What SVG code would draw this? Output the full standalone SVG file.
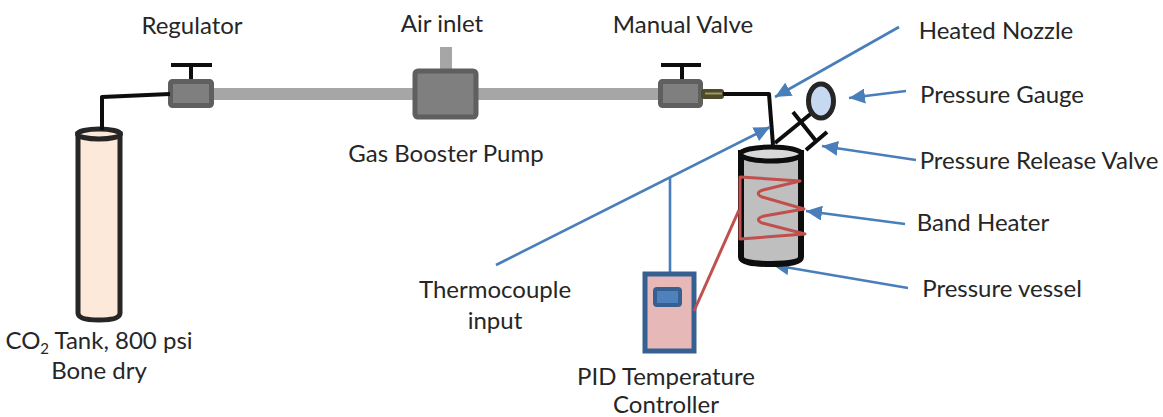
<svg xmlns="http://www.w3.org/2000/svg" width="1163" height="417" viewBox="0 0 1163 417">
<defs>
<marker id="ah" markerUnits="userSpaceOnUse" markerWidth="17" markerHeight="15" refX="16" refY="7.500" orient="auto"><path d="M0 0L16 7.500L0 15Z" fill="#4a7ebb"/></marker>
</defs>
<style>
text{font-family:Lato,"Noto Sans",sans-serif;font-size:24px;fill:#262626;text-anchor:middle}
.b{fill:none;stroke:#0d0d0d;stroke-width:4;stroke-linejoin:round}
.bl{fill:none;stroke:#4a7ebb;stroke-width:2.600}
.ar{fill:none;stroke:#4a7ebb;stroke-width:2.600;marker-end:url(#ah)}
.pipe{fill:#a6a6a6}
.box{fill:#7f7f7f;stroke:#5f5f5f;stroke-width:5;stroke-linejoin:round}
.red{fill:none;stroke:#c0504d;stroke-width:3;stroke-linejoin:round}
</style>
<g id="tank">
<path d="M78 134V313Q78 320 99 320Q120 320 120 313V134Z" fill="#fde9d9" stroke="#262626" stroke-width="5"/>
<ellipse cx="99" cy="134" rx="21.500" ry="5" fill="#fde9d9" stroke="#262626" stroke-width="5"/>
<text x="99" y="349">CO<tspan font-size="15" dy="5">2</tspan><tspan dy="-5"> Tank, 800 psi</tspan></text>
<text x="99" y="379">Bone dry</text>
</g>
<g id="pipes">
<rect class="pipe" x="213" y="88" width="204" height="12"/>
<rect class="pipe" x="476" y="88" width="184" height="12"/>
<rect class="pipe" x="440" y="47" width="12" height="24"/>
</g>
<g id="regulator">
<path class="b" d="M171 65H212M191 65V81"/>
<rect class="box" x="170.500" y="81.500" width="41" height="24" rx="2"/>
<text x="192" y="34">Regulator</text>
</g>
<g id="pump">
<rect x="415" y="71" width="61" height="46" rx="3" fill="#7f7f7f" stroke="#5f5f5f" stroke-width="5"/>
<text x="442" y="32">Air inlet</text>
<text x="446" y="162">Gas Booster Pump</text>
</g>
<g id="manual-valve">
<path class="b" d="M661 65H701M682 65V81"/>
<rect class="box" x="660.500" y="81.500" width="40" height="24" rx="2"/>
<rect x="701" y="89" width="23" height="10" rx="3" fill="#4f4a2a"/>
<path d="M705 93.500H722" stroke="#a09a60" stroke-width="2"/>
<text x="683" y="33">Manual Valve</text>
</g>
<g id="connectors">
<path class="b" d="M170 94L102 97V130"/>
<path class="b" d="M723 94H769L773 145"/>
<path class="bl" d="M670 177V274"/>
<path class="ar" d="M899 27L775 97"/>
<path class="ar" d="M496 265L770 127"/>
<path class="ar" d="M906 91L849 98"/>
<path class="ar" d="M916 160L822 146"/>
<path class="ar" d="M905 224L806 211"/>
<path class="ar" d="M908 288L773 265"/>
</g>
<g id="pressure-vessel">
<path d="M741 153V257Q741 264 771 264Q801 264 801 257V153Z" fill="#bfbfbf" stroke="#0d0d0d" stroke-width="6"/>
<ellipse cx="771" cy="154" rx="30.500" ry="7" fill="#d9d9d9" stroke="#0d0d0d" stroke-width="5"/>
</g>
<g id="band-heater">
<path class="red" d="M740 177L800 181L763 190Q754 193 762 197L804 209L764 216Q754 219 762 223L805 234L740 239Z"/>
</g>
<g id="pressure-gauge">
<path d="M775 143L813 112" stroke="#0d0d0d" stroke-width="4"/>
<path d="M793 112L816 141M806 150L827 132" stroke="#0d0d0d" stroke-width="4" fill="none"/>
<ellipse cx="821" cy="101" rx="12.500" ry="17" fill="#c6d9f1" stroke="#262626" stroke-width="5"/>
</g>
<g id="pid">
<rect x="645" y="274" width="49" height="77" fill="#e6b9b8" stroke="#366092" stroke-width="5"/>
<rect x="655" y="289" width="25" height="16" rx="2" fill="#4f81bd" stroke="#366092" stroke-width="4"/>
<path class="red" d="M694 311L739 210"/>
<text x="666" y="385">PID Temperature</text>
<text x="666" y="413">Controller</text>
</g>
<g id="labels">
<text x="996" y="39">Heated Nozzle</text>
<text x="1002" y="103">Pressure Gauge</text>
<text x="1039" y="169">Pressure Release Valve</text>
<text x="983" y="231">Band Heater</text>
<text x="1002" y="297">Pressure vessel</text>
<text x="495" y="298">Thermocouple</text>
<text x="495" y="329">input</text>
</g>
</svg>
